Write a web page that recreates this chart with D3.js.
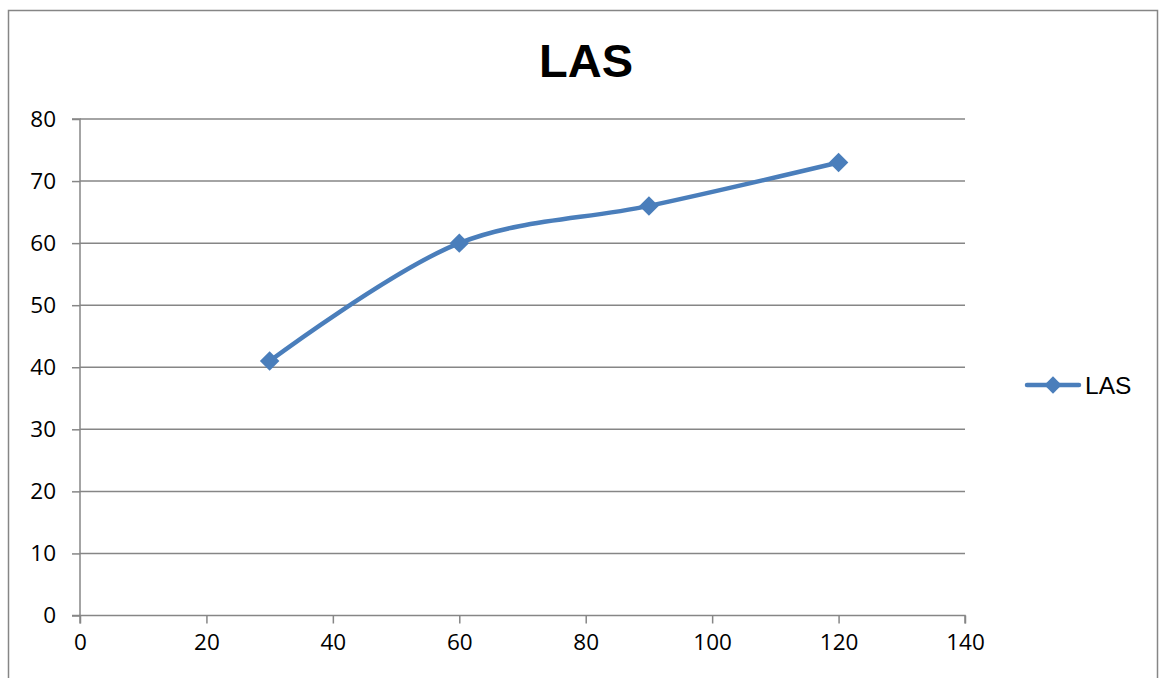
<!DOCTYPE html>
<html><head><meta charset="utf-8">
<script src="https://cdn.jsdelivr.net/npm/d3@7"></script>
<style>body{margin:0;background:#fff;} svg{display:block;}</style>
</head><body>
<svg id="c" width="1159" height="678"></svg>
<script>
const xValues = [30, 60, 90, 120];
const yValues = [41, 60, 66, 73];
const seriesName = "LAS";
const xTicks = [0, 20, 40, 60, 80, 100, 120, 140];
const yTicks = [0, 10, 20, 30, 40, 50, 60, 70, 80];

const svg = d3.select("#c");
const x = d3.scaleLinear().domain([0, 140]).range([80, 965]);
const y = d3.scaleLinear().domain([0, 80]).range([615.5, 119]);
const grey = "#868686";
const blue = "#4a7ebb";

// outer border
svg.append("rect").attr("x", 8.5).attr("y", 10.5).attr("width", 1149).attr("height", 700)
  .attr("fill", "none").attr("stroke", grey).attr("stroke-width", 1.5);

// title
svg.append("text").attr("x", 586).attr("y", 77).attr("text-anchor", "middle")
  .attr("font-family", "Liberation Sans, Arial, sans-serif").attr("font-weight", "bold")
  .attr("font-size", 47).attr("fill", "#000").text(seriesName);

// gridlines
svg.append("g").selectAll("line").data(yTicks.filter(d => d > 0)).join("line")
  .attr("x1", x(0)).attr("x2", x(140)).attr("y1", d => y(d)).attr("y2", d => y(d))
  .attr("stroke", grey).attr("stroke-width", 1.5);

// y axis
const yAxis = d3.axisLeft(y).tickValues(yTicks).tickSize(8).tickPadding(16);
const gy = svg.append("g").attr("transform", `translate(${x(0)},0)`).call(yAxis);
// x axis
const xAxis = d3.axisBottom(x).tickValues(xTicks).tickSize(8).tickPadding(10);
const gx = svg.append("g").attr("transform", `translate(0,${y(0)})`).call(xAxis);
[gx, gy].forEach(g => {
  g.select(".domain").attr("stroke", grey).attr("stroke-width", 1.5);
  g.selectAll(".tick line").attr("stroke", grey).attr("stroke-width", 1.5);
  g.selectAll(".tick text").attr("font-family", "Open Sans, Liberation Sans, sans-serif")
    .attr("font-size", 22.5).attr("fill", "#000");
});
gy.select(".domain").attr("d", `M-8,${y(80)}H0V${y(0)}H-8`);
gx.select(".domain").attr("d", `M${x(0)},8V0H${x(140)}V8`);
gx.selectAll(".tick text").attr("dy", "0.75em");

// line
const pts = xValues.map((v, i) => [v, yValues[i]]);
const line = d3.line().x(d => x(d[0])).y(d => y(d[1])).curve(d3.curveCatmullRom.alpha(0.5));
svg.append("path").datum(pts).attr("d", line).attr("fill", "none")
  .attr("stroke", blue).attr("stroke-width", 4.5).attr("stroke-linecap", "round");

const marker = d3.symbol().type(d3.symbolSquare).size(190);
svg.append("g").selectAll("path").data(pts).join("path")
  .attr("transform", d => `translate(${x(d[0])},${y(d[1])}) rotate(45)`)
  .attr("d", marker)
  .attr("fill", blue);

// legend
const lg = svg.append("g").attr("transform", "translate(0,385)");
lg.append("line").attr("x1", 1027).attr("x2", 1079).attr("y1", 0).attr("y2", 0)
  .attr("stroke", blue).attr("stroke-width", 4.5).attr("stroke-linecap", "round");
lg.append("path").attr("transform", "translate(1053,0) rotate(45)")
  .attr("d", d3.symbol().type(d3.symbolSquare).size(150)).attr("fill", blue);
lg.append("text").attr("x", 1085).attr("y", 0).attr("dy", "0.36em")
  .attr("font-family", "Liberation Sans, Arial, sans-serif").attr("font-size", 24.5)
  .attr("fill", "#000").text(seriesName);
</script>
</body></html>
